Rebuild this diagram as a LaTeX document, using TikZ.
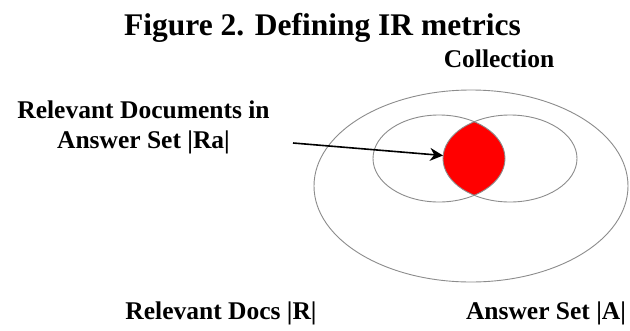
\documentclass[tikz,border=0pt]{standalone}
\usepackage{fontspec}
\setmainfont{Liberation Serif}
\usetikzlibrary{arrows.meta}

\begin{document}
\begin{tikzpicture}[x=1pt, y=-1pt,
  setline/.style={draw=black!45, line width=0.9pt},
  lbl/.style={font=\bfseries\fontsize{25.5}{30}\selectfont, inner sep=0pt},
  ttl/.style={font=\bfseries\fontsize{31.5}{36}\selectfont, inner sep=0pt}
]
\useasboundingbox[fill=white] (0,0) rectangle (630,330);

%% title
\node[ttl, anchor=base] (title) at (322.5,35) {Figure 2. Defining IR metrics};
\node[lbl, anchor=base] (coll) at (499,67) {Collection};

%% sets
\coordinate (outc) at (471,186);
\coordinate (relc) at (439,158.5);
\coordinate (ansc) at (510,158.5);

\begin{scope}
\clip (relc) ellipse [x radius=66pt, y radius=43.5pt];
\fill[red] (ansc) ellipse [x radius=67pt, y radius=43.5pt];
\end{scope}

\draw[setline] (outc) ellipse [x radius=157pt, y radius=96pt];
\draw[setline] (relc) ellipse [x radius=66pt, y radius=43.5pt];
\draw[setline] (ansc) ellipse [x radius=67pt, y radius=43.5pt];

%% arrow
\node[lbl, align=center] (ra) at (143.5,127) {Relevant Documents in\\Answer Set |Ra|};
\coordinate (tail) at (293,143);
\coordinate (lensw) at (443,155.5);
\draw[line width=1.6pt, -{Stealth[length=13pt, width=13pt]}] (tail) -- (lensw);

%% others
\node[lbl, anchor=base] (rel) at (221,319) {Relevant Docs |R|};
\node[lbl, anchor=base] (ans) at (546,319) {Answer Set |A|};
\end{tikzpicture}
\end{document}
